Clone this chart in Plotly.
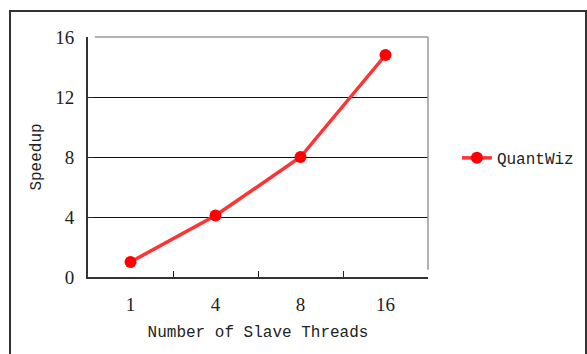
import plotly.graph_objects as go

# Speedup of QuantWiz versus number of slave threads
threads = ["1", "4", "8", "16"]
speedup = [1.0, 4.1, 8.0, 14.8]
y_ticks = [0, 4, 8, 12, 16]

TICK_FONT = dict(family="Liberation Serif", size=19, color="#222222")
TITLE_FONT = dict(family="Liberation Mono", size=16, color="#222222")

fig = go.Figure()
fig.add_trace(go.Scatter(
    x=threads, y=speedup, mode="lines+markers", name="QuantWiz",
    line=dict(color="#FF3333", width=3.5),
    marker=dict(color="#FF0000", size=12),
))

fig.update_layout(
    width=587, height=354,
    margin=dict(l=88, r=159, t=37, b=77, autoexpand=False),
    paper_bgcolor="white", plot_bgcolor="white",
    showlegend=True,
    legend=dict(x=1.085, xanchor="left", y=0.496, yanchor="middle",
                font=TITLE_FONT, itemwidth=30, bgcolor="rgba(0,0,0,0)"),
    xaxis=dict(
        type="category", range=[-0.5, 3.5],
        tickson="boundaries", ticks="inside", ticklen=6, tickcolor="#222222",
        showline=True, linecolor="#333333", linewidth=2,
        showgrid=False, tickfont=TICK_FONT, ticklabelstandoff=9,
        title=dict(text="Number of Slave Threads", font=TITLE_FONT, standoff=12),
    ),
    yaxis=dict(
        range=[0, 16], tickvals=y_ticks,
        ticks="inside", ticklen=6, tickcolor="#222222",
        showline=True, linecolor="#333333", linewidth=2,
        showgrid=True, gridcolor="#111111", gridwidth=1,
        zeroline=False, tickfont=TICK_FONT, ticklabelstandoff=8,
        title=dict(text="Speedup", font=TITLE_FONT, standoff=10),
    ),
    shapes=[
        # gray top and right edges of the plot box
        dict(type="line", xref="paper", yref="paper", x0=0.02, x1=1, y0=1, y1=1,
             line=dict(color="#999999", width=1.5)),
        dict(type="line", xref="paper", yref="paper", x0=1, x1=1, y0=0.03, y1=1,
             line=dict(color="#999999", width=1.5)),
        # outer chart frame
        dict(type="rect", xref="paper", yref="paper",
             x0=-0.2294, x1=1.4647, y0=-0.5, y1=1.1083,
             line=dict(color="#333333", width=2)),
    ],
)

fig.write_html("out.html")
